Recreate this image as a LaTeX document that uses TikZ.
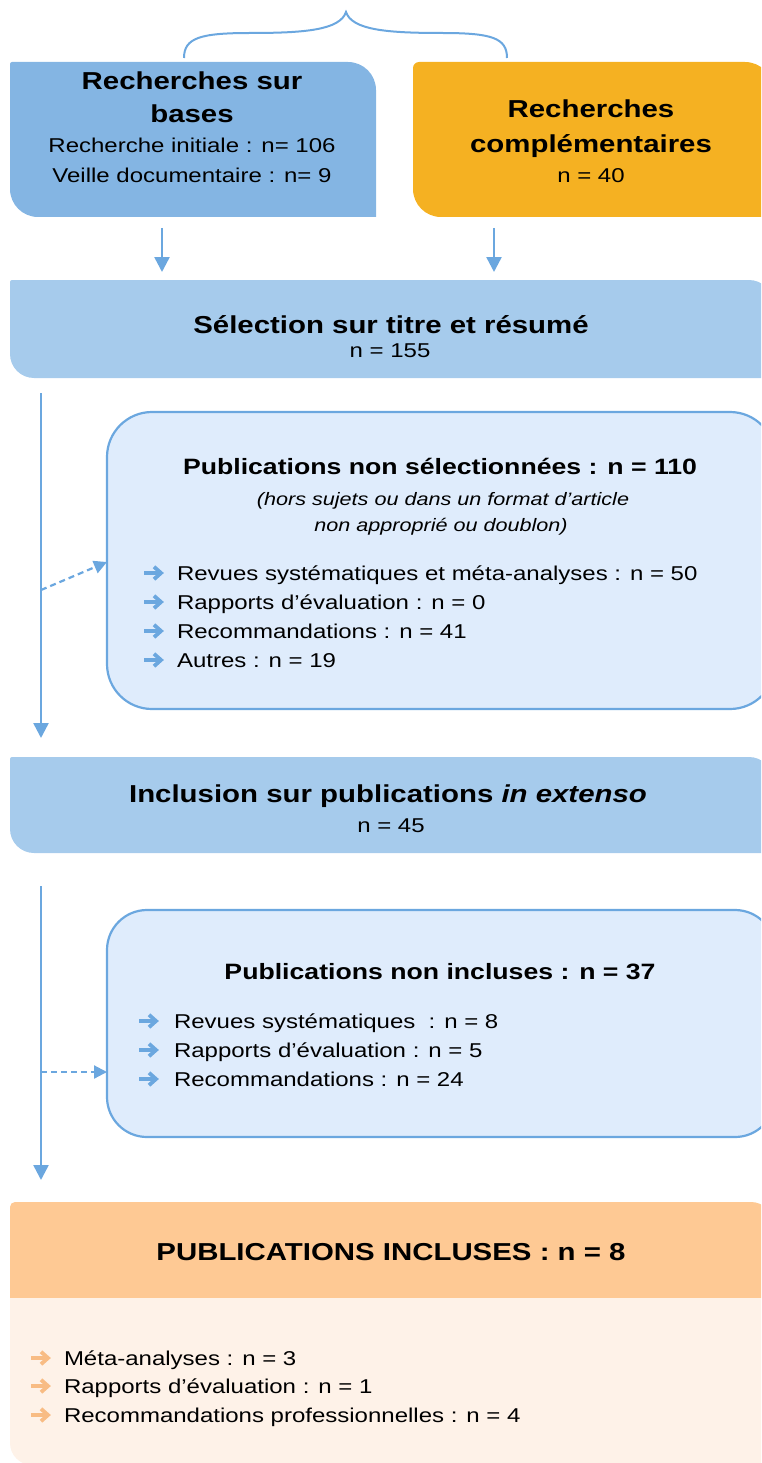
\documentclass[tikz,border=0pt]{standalone}
\usepackage{fontspec}
\setmainfont{Liberation Sans}[FakeStretch=1.2]
\usetikzlibrary{arrows.meta,calc}
\definecolor{boxblue}{HTML}{84B5E3}
\definecolor{boxorange}{HTML}{F5B122}
\definecolor{lightblue}{HTML}{A6CBEC}
\definecolor{paleblue}{HTML}{DFECFC}
\definecolor{lineblue}{HTML}{6BA7DF}
\definecolor{headorange}{HTML}{FEC994}
\definecolor{paleorange}{HTML}{FEF2E8}
\definecolor{bulorange}{HTML}{F8BC84}
\newcommand\myBig{\fontsize{24.5}{28}\selectfont\bfseries}
\newcommand\mySub{\fontsize{22.2}{26}\selectfont\bfseries}
\newcommand\myReg{\fontsize{20}{24}\selectfont}
\newcommand\myIt{\fontsize{18}{22}\selectfont\itshape}
% node name, fill style, radii: top-left, top-right, bottom-right, bottom-left
\newcommand\boxbg[6]{%
  \fill[#2] ($(#1.north west)+(#3,0)$) -- ($(#1.north east)+(-#4,0)$)
    .. controls ($(#1.north east)+(-0.448*#4,0)$) and ($(#1.north east)+(0,-0.448*#4)$) .. ($(#1.north east)+(0,-#4)$)
    -- ($(#1.south east)+(0,#5)$)
    .. controls ($(#1.south east)+(0,0.448*#5)$) and ($(#1.south east)+(-0.448*#5,0)$) .. ($(#1.south east)+(-#5,0)$)
    -- ($(#1.south west)+(#6,0)$)
    .. controls ($(#1.south west)+(0.448*#6,0)$) and ($(#1.south west)+(0,0.448*#6)$) .. ($(#1.south west)+(0,#6)$)
    -- ($(#1.north west)+(0,-#3)$)
    .. controls ($(#1.north west)+(0,-0.448*#3)$) and ($(#1.north west)+(0.448*#3,0)$) .. ($(#1.north west)+(#3,0)$) -- cycle;}
\begin{document}
\begin{tikzpicture}[x=1pt,y=1pt,
  boxn/.style={inner sep=0pt,outer sep=0pt,draw=none},
  txt/.style={inner sep=0pt,outer sep=0pt,anchor=base,text=black},
  itm/.style={inner sep=0pt,outer sep=0pt,anchor=base west,text=black,font=\myReg},
  conn/.style={draw=lineblue,line width=2.5pt,-{Triangle[width=15pt,length=15pt]}},
  dconn/.style={draw=lineblue,line width=2.2pt,dash pattern=on 6pt off 4pt,-{Triangle[width=13pt,length=13pt]}},
  roundbox/.style={boxn,draw=lineblue,line width=2.2pt,fill=paleblue},
  barrow/.pic={\draw[line width=3.4pt] (-10,0) -- (6,0);
               \draw[line width=3.8pt,line join=miter,line cap=butt] (0,6.2) -- (7,0) -- (0,-6.2);}]
\useasboundingbox (0,0) rectangle (761,-1463);
\clip (0,0) rectangle (761,-1463);

% brace
\draw[lineblue,line width=2pt] (184,-58) .. controls (184,-38) and (200,-33) .. (250,-33)
  .. controls (305,-33) and (340,-30) .. (346,-12)
  .. controls (352,-30) and (387,-33) .. (442,-33)
  .. controls (492,-33) and (507,-38) .. (507,-58);

% box frames
\node[boxn,minimum width=366pt,minimum height=155pt] (b1) at (193,-139.5) {};
\node[boxn,minimum width=360pt,minimum height=155pt] (b2) at (593,-139.5) {};
\node[boxn,minimum width=763pt,minimum height=98pt] (b3) at (391.5,-329) {};
\node[roundbox,rounded corners=45pt,minimum width=668pt,minimum height=297pt] (b4) at (441,-560.5) {};
\node[boxn,minimum width=763pt,minimum height=96pt] (b5) at (391.5,-805) {};
\node[roundbox,rounded corners=40pt,minimum width=668pt,minimum height=227pt] (b6) at (441,-1023.5) {};
\node[boxn,minimum width=763pt,minimum height=96pt] (b7) at (391.5,-1250) {};
\node[boxn,minimum width=763pt,minimum height=167pt] (b8) at (391.5,-1381.5) {};

\boxbg{b1}{boxblue}{2}{28}{0}{28}
\boxbg{b2}{boxorange}{6}{28}{0}{28}
\boxbg{b3}{lightblue}{2}{24}{0}{24}
\boxbg{b5}{lightblue}{2}{24}{0}{24}
\boxbg{b7}{headorange}{5}{22}{0}{0}
\boxbg{b8}{paleorange}{0}{0}{0}{22}

% connectors
\coordinate (a1s) at ($(b1.south west)+(152,-11)$);
\coordinate (a1e) at ($(b3.north west)+(152,8)$);
\coordinate (a2s) at ($(b2.south west)+(81,-11)$);
\coordinate (a2e) at ($(b3.north west)+(484,8)$);
\draw[conn] (a1s) -- (a1e);
\draw[conn] (a2s) -- (a2e);

\coordinate (l1s) at ($(b3.south west)+(31,-15)$);
\coordinate (l1e) at ($(b5.north west)+(31,19)$);
\draw[conn] (l1s) -- (l1e);
\coordinate (d1s) at (41,-590);
\draw[dconn] (d1s) -- ($(b4.west)+(0,-1.5)$);

\coordinate (l2s) at ($(b5.south west)+(31,-33)$);
\coordinate (l2e) at ($(b7.north west)+(31,22)$);
\draw[conn] (l2s) -- (l2e);
\coordinate (d2s) at (41,-1072);
\draw[dconn] (d2s) -- (b6.west |- d2s);

% texts box 1
\node[txt,font=\myBig] (t1a) at (192,-90) {Recherches sur};
\node[txt,font=\myBig] (t1b) at (192,-123) {bases};
\node[txt,font=\myReg] (t1c) at (192,-153) {Recherche initiale : n= 106};
\node[txt,font=\myReg] (t1d) at (192,-183) {Veille documentaire : n= 9};
% box 2
\node[txt,font=\myBig] (t2a) at (591,-118) {Recherches};
\node[txt,font=\myBig] (t2b) at (591,-153) {complémentaires};
\node[txt,font=\myReg] (t2c) at (591,-183) {n = 40};
% box 3
\node[txt,font=\myBig] (t3a) at (391,-333) {Sélection sur titre et résumé};
\node[txt,font=\myReg] (t3b) at (390,-357) {n = 155};
% box 4
\node[txt,font=\mySub] (t4a) at (440,-474) {Publications non sélectionnées : n = 110};
\node[txt,font=\myIt] (t4b) at (443,-505) {(hors sujets ou dans un format d’article};
\node[txt,font=\myIt] (t4c) at (441,-531) {non approprié ou doublon)};
\pic[lineblue] at (154,-573) {barrow};
\node[itm] (i4a) at (177,-580) {Revues systématiques et méta-analyses : n = 50};
\pic[lineblue] at (154,-602) {barrow};
\node[itm] (i4b) at (177,-609) {Rapports d’évaluation : n = 0};
\pic[lineblue] at (154,-631) {barrow};
\node[itm] (i4c) at (177,-638) {Recommandations : n = 41};
\pic[lineblue] at (154,-660) {barrow};
\node[itm] (i4d) at (177,-667) {Autres : n = 19};
% box 5
\node[txt,font=\myBig] (t5a) at (388,-802) {Inclusion sur publications \textit{in extenso}};
\node[txt,font=\myReg] (t5b) at (391,-832) {n = 45};
% box 6
\node[txt,font=\mySub] (t6a) at (440,-979) {Publications non incluses : n = 37};
\pic[lineblue] at (149,-1021) {barrow};
\node[itm] (i6a) at (174,-1028) {Revues systématiques\ \ : n = 8};
\pic[lineblue] at (149,-1050) {barrow};
\node[itm] (i6b) at (174,-1057) {Rapports d’évaluation : n = 5};
\pic[lineblue] at (149,-1079) {barrow};
\node[itm] (i6c) at (174,-1086) {Recommandations : n = 24};
% box 7
\node[txt,font=\myBig] (t7a) at (391,-1260) {PUBLICATIONS INCLUSES : n = 8};
\pic[bulorange] at (41,-1358) {barrow};
\node[itm] (i7a) at (64,-1365) {Méta-analyses : n = 3};
\pic[bulorange] at (41,-1386) {barrow};
\node[itm] (i7b) at (64,-1393) {Rapports d’évaluation : n = 1};
\pic[bulorange] at (41,-1415) {barrow};
\node[itm] (i7c) at (64,-1422) {Recommandations professionnelles : n = 4};
\end{tikzpicture}
\end{document}
